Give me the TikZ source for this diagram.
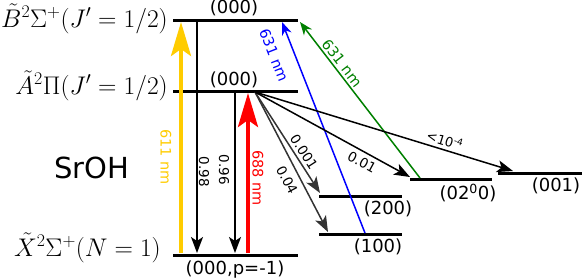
\RequirePackage{fix-cm}
\documentclass[tikz,border=0pt]{standalone}
\usepackage{fontspec}
\setsansfont{DejaVu Sans}
\usetikzlibrary{arrows.meta,positioning}
\definecolor{laseryellow}{RGB}{255,204,0}
\definecolor{laserred}{RGB}{255,0,0}
\definecolor{laserblue}{RGB}{0,0,255}
\definecolor{lasergreen}{RGB}{0,128,0}
\definecolor{decaygray}{RGB}{51,51,51}
\tikzset{
    level/.style={line width=3pt},
    statelabel/.style={anchor=base east,inner sep=0pt,font=\fontsize{25.5}{28}\selectfont},
    viblabel/.style={inner sep=0pt,font=\sffamily\fontsize{18}{20}\selectfont},
    ratiolabel/.style={inner sep=0pt,font=\sffamily\fontsize{13.5}{15}\selectfont},
    wavelabel/.style={inner sep=0pt,font=\sffamily\fontsize{14.5}{16}\selectfont},
    decay/.style={line width=1.5pt,-{Stealth[length=16pt,width=12pt,inset=4pt]}},
    pump/.style={line width=4pt,-{Stealth[length=34pt,width=20pt,inset=7pt]}},
    repump/.style={line width=1.5pt,-{Stealth[length=13pt,width=10pt,inset=4pt]}}
}
\begin{document}
\begin{tikzpicture}[x=1pt,y=-1pt]
    \useasboundingbox (0,0) rectangle (582,279);
    % electronic levels
    \coordinate (Bl) at (173,20);  \coordinate (Br) at (298,20);
    \coordinate (Al) at (173,91);  \coordinate (Ar) at (298,91);
    \coordinate (Xl) at (173,255); \coordinate (Xr) at (298,255);
    \draw[level] (Bl) -- (Br);
    \draw[level] (Al) -- (Ar);
    \draw[level] (Xl) -- (Xr);
    % vibrational levels of X
    \coordinate (Vl200) at (319,196); \coordinate (Vr200) at (402,196);
    \coordinate (Vl100) at (319,234); \coordinate (Vr100) at (402,234);
    \coordinate (Vl020) at (410,179); \coordinate (Vr020) at (492,179);
    \coordinate (Vl001) at (498,173); \coordinate (Vr001) at (582,173);
    \draw[level] (Vl200) -- (Vr200);
    \draw[level] (Vl100) -- (Vr100);
    \draw[level] (Vl020) -- (Vr020);
    \draw[level] (Vl001) -- (Vr001);
    % state names
    \node[statelabel] (nameB) at (168,27) {$\tilde{B}^2\Sigma^+(J'=1/2)$};
    \node[statelabel] (nameA) at (168,94) {$\tilde{A}^2\Pi(J'=1/2)$};
    \node[statelabel] (nameX) at (161,256) {$\tilde{X}^2\Sigma^+(N=1)$};
    \node[font=\sffamily\fontsize{29}{32}\selectfont] (mol) at (92,168) {SrOH};
    % vibrational labels
    \node[viblabel] (vB) at (234,8) {(000)};
    \node[viblabel] (vA) at (234,80) {(000)};
    \node[viblabel] (vX) at (235,270) {(000,p=-1)};
    \node[viblabel] (v200) at (388,209) {(200)};
    \node[viblabel] (v100) at (378,247) {(100)};
    \node[viblabel] (v020) at (468,193) {(02\textsuperscript{0}0)};
    \node[viblabel] (v001) at (556,186) {(001)};
    % lasers
    \coordinate (yelBot) at (181,253); \coordinate (yelTop) at (181,22);
    \coordinate (redBot) at (248,253); \coordinate (redTop) at (248,93);
    \draw[pump,laseryellow] (yelBot) -- (yelTop);
    \draw[pump,laserred] (redBot) -- (redTop);
    \node[wavelabel,laseryellow,rotate=-90] (w611) at (166,157) {611 nm};
    \node[wavelabel,laserred,rotate=-90] (w688) at (258,178) {688 nm};
    \coordinate (bluBot) at (365,233); \coordinate (bluTop) at (282,22);
    \coordinate (grnBot) at (420,178); \coordinate (grnTop) at (300,22);
    \draw[repump,laserblue] (bluBot) -- (bluTop);
    \draw[repump,lasergreen] (grnBot) -- (grnTop);
    \node[wavelabel,laserblue,rotate=-68.6] (w631b) at (274,55) {631 nm};
    \node[wavelabel,lasergreen,rotate=-52.6] (w631g) at (342,63) {631 nm};
    % decays
    \coordinate (dB) at (197,21);  \coordinate (dBX) at (197,253);
    \coordinate (dA) at (235,92);  \coordinate (dAX) at (235,253);
    \draw[decay] (dB) -- (dBX);
    \draw[decay] (dA) -- (dAX);
    \node[ratiolabel,rotate=-90] (r098) at (204,172) {0.98};
    \node[ratiolabel,rotate=-90] (r096) at (224,170) {0.96};
    \coordinate (src) at (255,92);
    \coordinate (t200) at (320,193); \coordinate (t100) at (328,232);
    \coordinate (t020) at (410,177); \coordinate (t001) at (513,171);
    \draw[decay,decaygray] (src) -- (t200);
    \draw[decay,decaygray] (src) -- (t100);
    \draw[decay] (src) -- (t020);
    \draw[decay] (src) -- (t001);
    \node[ratiolabel,rotate=-57] (r0001) at (304,152) {0.001};
    \node[ratiolabel,rotate=-62] (r004) at (287,180) {0.04};
    \node[ratiolabel,rotate=-28.5] (r001) at (362,162) {0.01};
    \node[ratiolabel,font=\sffamily\fontsize{13}{14}\selectfont,rotate=-17] (r10) at (445,140) {<10\textsuperscript{-4}};
\end{tikzpicture}
\end{document}
